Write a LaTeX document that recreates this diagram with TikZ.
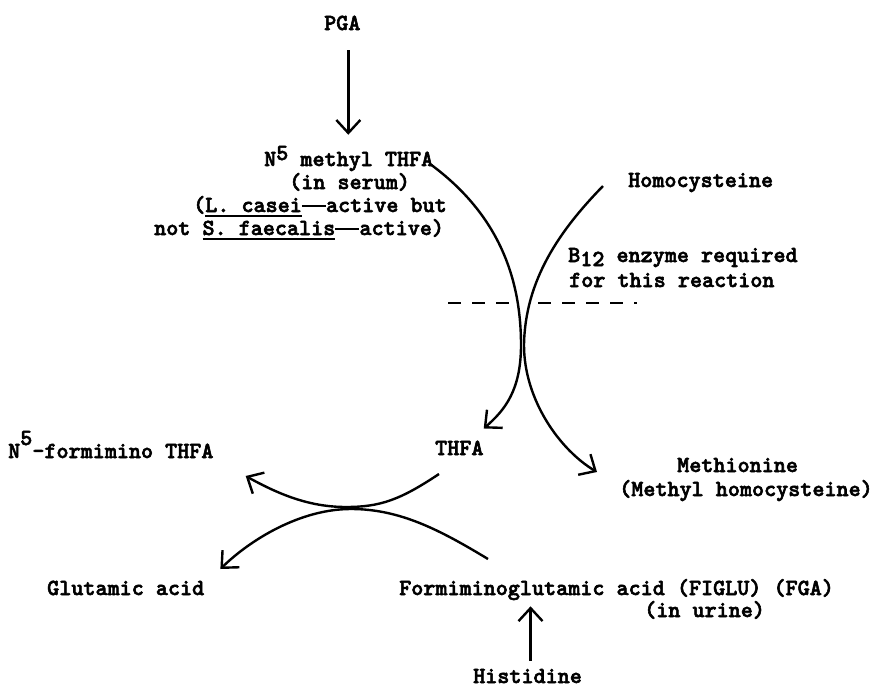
\documentclass[tikz,border=0pt]{standalone}
\usepackage{fontspec}
\newfontfamily\tw{lmmonolt10-bold.otf}[FakeBold=2.5]
\usetikzlibrary{arrows.meta,calc}
\newcommand\tdash{\rule[0.22em]{1.05em}{0.1em}}
\newcommand\tul[1]{\setbox0\hbox{#1}\rlap{\rule[-4.5pt]{\wd0}{1.8pt}}\box0}
\tikzset{
  lbl/.style={inner sep=0pt, anchor=base west, font=\tw\fontsize{23}{24}\selectfont},
  conn/.style={line width=2.4pt, -{Straight Barb[length=13pt,width=24pt]}},
  dashline/.style={line width=2.2pt, dash pattern=on 13pt off 11pt},
}
\begin{document}
\begin{tikzpicture}[x=1pt,y=-1pt]
\useasboundingbox[fill=white] (0,0) rectangle (873,688);
% texts
\node[lbl] (pga) at (324,30) {PGA};
\node[lbl] (n5a) at (264,166) {N\raisebox{6pt}{5} methyl THFA};
\node[lbl] (n5b) at (289,189) {(in serum)};
\node[lbl] (n5c) at (193,212) {(\tul{L. casei}\tdash active but};
\node[lbl] (n5d) at (154,235) {not \tul{S. faecalis}\tdash active)};
\node[lbl] (homo) at (628,187) {Homocysteine};
\node[lbl] (b12a) at (568,262) {B\raisebox{-4pt}{12} enzyme required};
\node[lbl] (b12b) at (569,287) {for this reaction};
\node[lbl] (thfa) at (435,455) {THFA};
\node[lbl] (form) at (8,458) {N\raisebox{13pt}{5}-formimino THFA};
\node[lbl] (meth) at (677,472) {Methionine};
\node[lbl] (methb) at (619,496) {(Methyl homocysteine)};
\node[lbl] (glu) at (47,595) {Glutamic acid};
\node[lbl] (figlu) at (399,595) {Formiminoglutamic acid (FIGLU) (FGA)};
\node[lbl] (urine) at (644,617) {(in urine)};
\node[lbl] (his) at (473,683) {Histidine};
% dashed line
\draw[dashline] (448,303) -- (510,303);
\draw[dashline] (538,303) -- (637,303);
% connectors
\draw[conn] ($(pga.south)+(6,20)$) -- ($(pga.south |- n5a.north)+(6,-11)$);
\draw[conn] ($(n5a.east)+(-4,5)$) .. controls (500,215) and (521,280) .. (521,345)
   .. controls (521,390) and (505,410) .. ($(thfa.north east)+(0,-12)$);
\draw[conn] ($(homo.west)+(-25,3.5)$) .. controls (560,230) and (525,280) .. (524,345)
   .. controls (524,400) and (560,450) .. ($(meth.base west)+(-80,0)$);
\draw[conn] ($(thfa.base west)+(4,19)$) .. controls (400,500) and (380,507) .. (346,507)
   .. controls (310,507) and (280,495) .. ($(form.base east)+(32,18)$);
\draw[conn] ($(figlu.base west)+(89,-36)$) .. controls (440,530) and (400,509) .. (351,509)
   .. controls (300,509) and (250,540) .. ($(glu.base east)+(16,-26)$);
\draw[conn] ($(his.north)+(3,-8)$) -- ($(his.north |- figlu.south)+(3,6)$);
\end{tikzpicture}
\end{document}
